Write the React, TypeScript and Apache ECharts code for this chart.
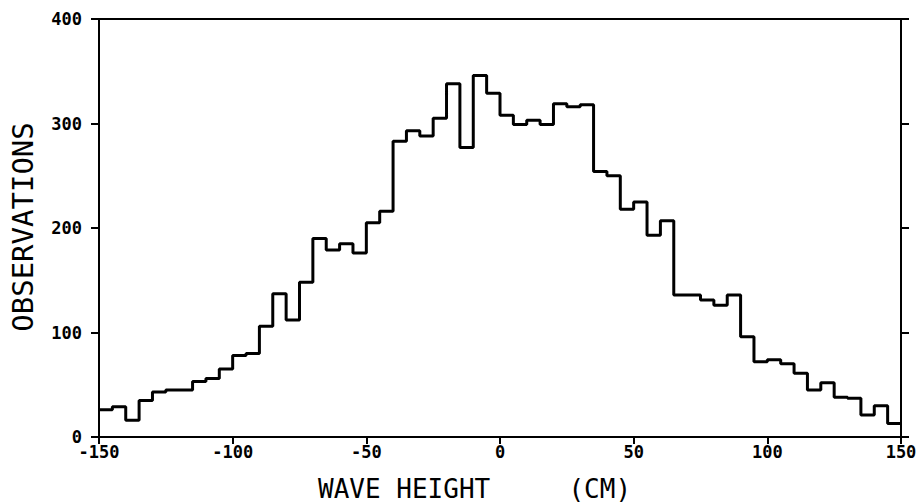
import React, { useEffect, useRef } from "react";
import * as echarts from "echarts";

// Histogram of wave heights (cm), bin width 5 cm from -150 to 150
const binStart = -150;
const binWidth = 5;
const observations = [
  26, 29, 16, 35, 43, 45, 45, 53, 56, 65,
  78, 80, 106, 137, 112, 148, 190, 179, 185, 176,
  205, 216, 283, 293, 288, 305, 338, 277, 346, 329,
  308, 299, 303, 299, 319, 316, 318, 254, 250, 218,
  225, 193, 207, 136, 136, 131, 126, 136, 96, 72,
  74, 70, 61, 45, 52, 38, 37, 21, 30, 13,
];
const xTicks = [-150, -100, -50, 0, 50, 100, 150];
const yTicks = [0, 100, 200, 300, 400];
const xTitle = "WAVE HEIGHT     (CM)";
const yTitle = "OBSERVATIONS";

export default function App() {
  const ref = useRef<HTMLDivElement>(null);

  useEffect(() => {
    if (!ref.current) return;
    const chart = echarts.init(ref.current, null, { renderer: "svg" });

    const stepData: [number, number][] = observations.map((v, i) => [
      binStart + i * binWidth,
      v,
    ]);
    stepData.push([
      binStart + observations.length * binWidth,
      observations[observations.length - 1],
    ]);

    const axisColor = "#000";
    const tickFont = {
      color: "#000",
      fontFamily: "DejaVu Sans Mono",
      fontWeight: "bold" as const,
      fontSize: 17,
    };

    chart.setOption({
      animation: false,
      backgroundColor: "#fff",
      grid: { left: 99, right: 20, top: 19, bottom: 66, containLabel: false },
      xAxis: [
        {
          type: "value",
          min: xTicks[0],
          max: xTicks[xTicks.length - 1],
          interval: 50,
          position: "bottom",
          axisLine: { show: true, onZero: false, lineStyle: { color: axisColor, width: 2 } },
          axisTick: { show: true, inside: false, length: 7, lineStyle: { color: axisColor, width: 2 } },
          axisLabel: { ...tickFont, margin: 6 },
          splitLine: { show: false },
        },
        {
          type: "value",
          min: xTicks[0],
          max: xTicks[xTicks.length - 1],
          interval: 50,
          position: "top",
          axisLine: { show: true, onZero: false, lineStyle: { color: axisColor, width: 2 } },
          axisTick: { show: false },
          axisLabel: { show: false },
          splitLine: { show: false },
        },
      ],
      yAxis: [
        {
          type: "value",
          min: yTicks[0],
          max: yTicks[yTicks.length - 1],
          interval: 100,
          position: "left",
          axisLine: { show: true, onZero: false, lineStyle: { color: axisColor, width: 2 } },
          axisTick: { show: true, inside: false, length: 8, lineStyle: { color: axisColor, width: 2 } },
          axisLabel: { ...tickFont, margin: 17 },
          splitLine: { show: false },
        },
        {
          type: "value",
          min: yTicks[0],
          max: yTicks[yTicks.length - 1],
          interval: 100,
          position: "right",
          axisLine: { show: true, onZero: false, lineStyle: { color: axisColor, width: 2 } },
          axisTick: { show: true, inside: false, length: 8, lineStyle: { color: axisColor, width: 2 } },
          axisLabel: { show: false },
          splitLine: { show: false },
        },
      ],
      series: [
        {
          type: "line",
          xAxisIndex: 0,
          yAxisIndex: 0,
          step: "end",
          data: stepData,
          showSymbol: false,
          symbol: "none",
          lineStyle: { color: "#000", width: 3 },
          z: 3,
        },
      ],
      graphic: [
        {
          type: "text",
          left: 318,
          top: 476,
          style: {
            text: xTitle,
            fill: "#000",
            fontFamily: "DejaVu Sans Mono",
            fontSize: 26,
          },
        },
        {
          type: "text",
          x: 23,
          y: 227,
          rotation: Math.PI / 2,
          style: {
            text: yTitle,
            fill: "#000",
            fontFamily: "DejaVu Sans Mono",
            fontSize: 29,
            align: "center",
            verticalAlign: "middle",
          },
        },
      ],
    });

    return () => chart.dispose();
  }, []);

  return (
    <div
      ref={ref}
      style={{ position: "fixed", left: 0, top: 0, width: 921, height: 503 }}
    />
  );
}
